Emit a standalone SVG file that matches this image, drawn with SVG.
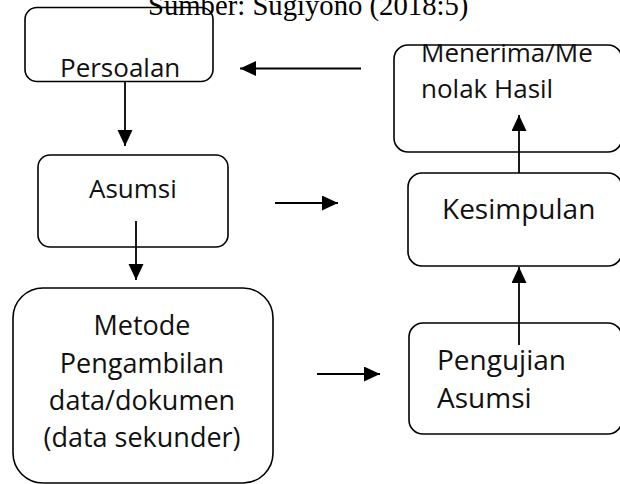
<svg xmlns="http://www.w3.org/2000/svg" width="620" height="484" viewBox="0 0 620 484">
<style>
.box{fill:none;stroke:#000;stroke-width:1.6}
.t{font-family:"Open Sans","Noto Sans",sans-serif;fill:#111}
.src{font-family:"Liberation Serif","Times New Roman",serif;font-size:28.7px;fill:#000}
.c{stroke:#000;stroke-width:1.8;fill:none}
</style>
<defs>
<marker id="ah" markerUnits="userSpaceOnUse" markerWidth="18" markerHeight="16" refX="16" refY="7.5" orient="auto">
<path d="M0,0 L16,7.5 L0,15 z" fill="#000"/>
</marker>
</defs>
<rect width="620" height="484" fill="#fff"/>
<text class="src" x="148" y="15">Sumber:  Sugiyono (2018:5)</text>
<g id="persoalan">
<rect class="box" x="25" y="7.5" width="188" height="74" rx="12"/>
<text class="t" x="60" y="77" font-size="26">Persoalan</text>
</g>
<g id="asumsi">
<rect class="box" x="38" y="155" width="190" height="92" rx="12"/>
<text class="t" x="89" y="198" font-size="26">Asumsi</text>
</g>
<g id="metode">
<rect class="box" x="13" y="288" width="260" height="195" rx="30"/>
<text class="t" x="142" text-anchor="middle" font-size="27"><tspan x="142" y="335">Metode</tspan><tspan x="142" y="373">Pengambilan</tspan><tspan x="142" y="410">data/dokumen</tspan><tspan x="142" y="447">(data sekunder)</tspan></text>
</g>
<g id="menerima">
<rect class="box" x="394" y="45" width="228" height="107" rx="14"/>
<text class="t" font-size="26"><tspan x="421" y="62">Menerima/Me</tspan><tspan x="421" y="98">nolak Hasil</tspan></text>
</g>
<g id="kesimpulan">
<rect class="box" x="408" y="173" width="214" height="93" rx="14"/>
<text class="t" x="442" y="219" font-size="28">Kesimpulan</text>
</g>
<g id="pengujian">
<rect class="box" x="409" y="323" width="213" height="111" rx="14"/>
<text class="t" font-size="28"><tspan x="437" y="370">Pengujian</tspan><tspan x="437" y="408">Asumsi</tspan></text>
</g>
<g id="connectors">
<line class="c" x1="361" y1="68.5" x2="240" y2="68.5" marker-end="url(#ah)"/>
<line class="c" x1="125" y1="81" x2="125" y2="146" stroke-width="2.6" marker-end="url(#ah)"/>
<line class="c" x1="136" y1="221" x2="136" y2="280" stroke-width="2.4" marker-end="url(#ah)"/>
<line class="c" x1="275" y1="203" x2="338" y2="203" marker-end="url(#ah)"/>
<line class="c" x1="317" y1="374" x2="380" y2="374" marker-end="url(#ah)"/>
<line class="c" x1="519" y1="345" x2="519" y2="267" marker-end="url(#ah)"/>
<line class="c" x1="519" y1="173" x2="519" y2="115" marker-end="url(#ah)"/>
</g>
</svg>
